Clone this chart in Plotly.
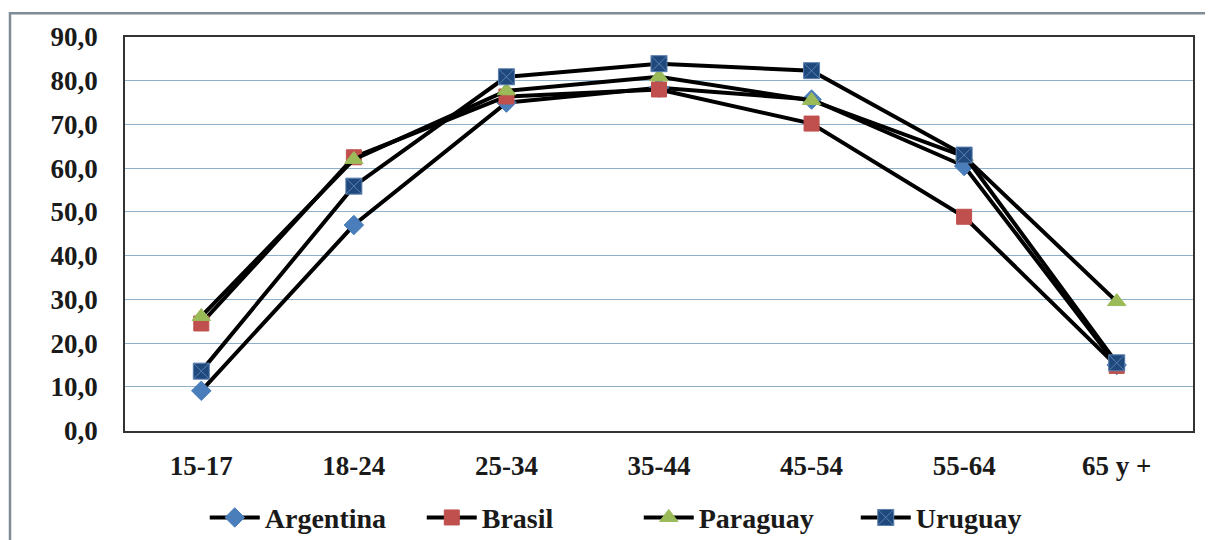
import plotly.graph_objects as go

categories = ["15-17", "18-24", "25-34", "35-44", "45-54", "55-64", "65 y +"]
argentina = [9.1, 47.0, 75.0, 78.4, 75.7, 60.5, 15.0]
brasil = [24.5, 62.5, 76.4, 78.0, 70.2, 48.9, 14.8]
paraguay = [26.1, 62.0, 77.7, 80.9, 75.5, 62.7, 29.5]
uruguay = [13.6, 55.9, 80.9, 83.9, 82.3, 63.0, 15.5]

series = [
    ("Argentina", argentina, "diamond", "#4a7ebb", "#4a7ebb", 15),
    ("Brasil", brasil, "square", "#c0504d", "#c0504d", 15),
    ("Paraguay", paraguay, "triangle-up", "#9bbb59", "#9bbb59", 16),
    ("Uruguay", uruguay, "square-x", "#1f497d", "#5b7fb0", 16),
]

SERIF = "Liberation Serif"

fig = go.Figure()
for name, vals, sym, col, lcol, size in series:
    fig.add_trace(go.Scatter(
        x=categories, y=vals, name=name, mode="lines+markers",
        line=dict(color="black", width=4),
        marker=dict(symbol=sym, color=col, size=size, line=dict(color=lcol, width=1)),
    ))

fig.update_layout(
    width=1213, height=540,
    paper_bgcolor="white", plot_bgcolor="white",
    margin=dict(l=117, r=28, t=29, b=115),
    separators=",.",
    font=dict(family=SERIF, size=20, color="#1a1a1a"),
    showlegend=True,
    legend=dict(
        orientation="h", xref="container", yref="container",
        x=0.52, xanchor="center", y=0.056, yanchor="middle",
        font=dict(family=SERIF, size=28, color="#1a1a1a", weight="bold"),
        itemwidth=50, tracegroupgap=0,
        entrywidth=152, entrywidthmode="pixels",
    ),
    xaxis=dict(
        type="category", showgrid=False, showline=True, mirror=True,
        linecolor="#333333", linewidth=1.5, ticks="",
        tickfont=dict(family=SERIF, size=27, color="#1a1a1a", weight="bold"),
        ticklabelstandoff=10, range=[-0.5, 6.5],
    ),
    yaxis=dict(
        range=[0, 90], dtick=10, tickformat=".1f",
        showgrid=True, gridcolor="#8fb0c9", gridwidth=1,
        showline=True, mirror=True, linecolor="#333333", linewidth=1.5,
        zeroline=False, ticks="",
        tickfont=dict(family=SERIF, size=27, color="#1a1a1a", weight="bold"),
        ticklabelstandoff=20,
    ),
    shapes=[
        dict(type="rect", xref="paper", yref="paper",
             x0=-115/1068, x1=1.05, y0=-0.5, y1=1 + 24/396,
             line=dict(color="#7f8c95", width=2.5), fillcolor="rgba(0,0,0,0)", layer="below"),
    ],
)

fig.write_html("out.html")
